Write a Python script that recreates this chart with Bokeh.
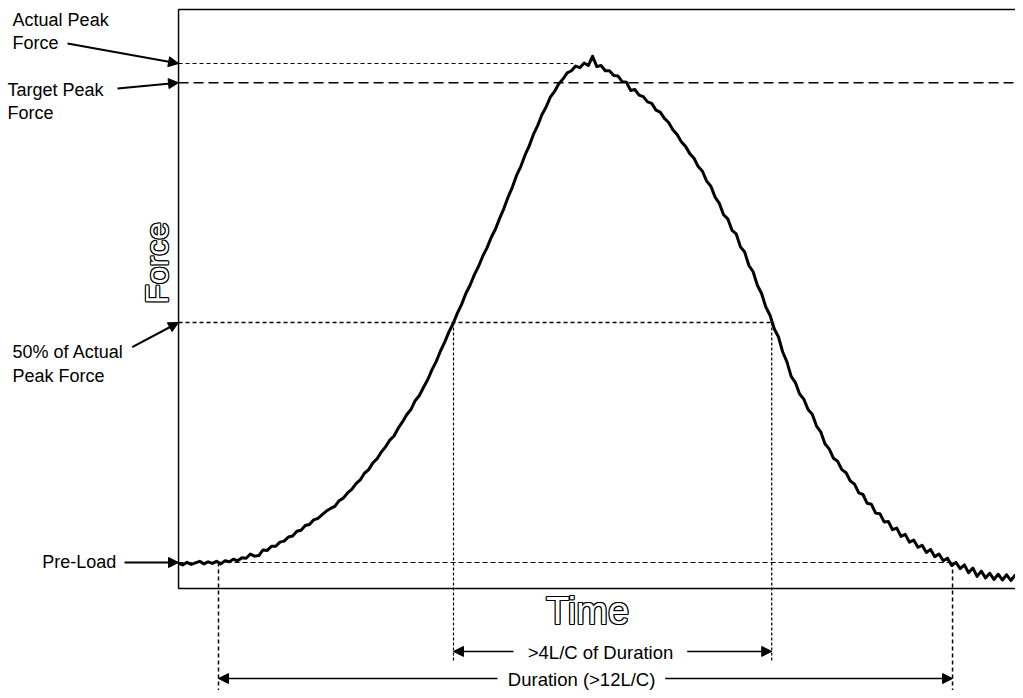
from bokeh.plotting import figure
from bokeh.models import Range1d, Arrow, NormalHead, ColumnDataSource
from bokeh.core.properties import value
from bokeh.embed import file_html
from bokeh.resources import INLINE

# ---- data (time in arbitrary units 0..100, force in % of actual peak) ----
time = [i * 0.5 for i in range(201)]
force = [
    3.5, 3.2, 3.7, 3.3, 3.6, 3.9, 3.4, 3.8, 3.5, 3.9,
    3.4, 4.0, 3.8, 4.3, 4.0, 4.6, 4.5, 5.3, 4.9, 5.0,
    6.1, 6.0, 6.8, 6.8, 7.6, 7.8, 8.6, 8.8, 9.7, 9.9,
    10.8, 11.0, 11.9, 12.2, 12.9, 13.6, 14.1, 14.5, 15.6, 16.1,
    17.1, 17.8, 18.9, 19.6, 20.9, 21.6, 22.9, 23.7, 25.0, 26.0,
    27.3, 28.1, 29.6, 30.8, 32.2, 33.2, 34.9, 35.9, 37.5, 39.0,
    40.9, 42.5, 44.5, 46.2, 48.2, 49.8, 51.8, 53.5, 55.6, 57.2,
    59.2, 60.8, 62.8, 64.4, 66.4, 68.0, 70.1, 72.0, 74.2, 76.1,
    78.4, 80.1, 82.3, 84.1, 86.3, 88.0, 90.1, 91.6, 93.5, 94.6,
    96.1, 97.0, 98.2, 98.6, 99.5, 99.2, 100.1, 99.6, 101.4, 99.4,
    99.6, 98.6, 98.6, 97.7, 97.6, 96.5, 96.4, 94.8, 95.0, 93.9,
    93.6, 92.6, 92.3, 91.0, 90.6, 89.4, 88.6, 87.2, 86.3, 84.9,
    84.0, 82.6, 81.7, 80.1, 79.2, 77.3, 76.3, 74.2, 73.0, 70.8,
    70.0, 67.8, 67.1, 64.6, 63.6, 61.0, 59.8, 57.2, 55.6, 53.0,
    51.4, 48.8, 47.2, 44.3, 42.4, 39.6, 38.4, 36.2, 35.2, 33.2,
    32.3, 30.0, 28.9, 26.6, 25.6, 23.8, 23.2, 21.6, 21.0, 19.4,
    18.8, 17.1, 16.8, 15.1, 14.9, 13.2, 13.1, 11.5, 11.6, 10.0,
    10.3, 8.7, 9.1, 7.6, 8.0, 6.6, 7.0, 5.6, 6.2, 4.8,
    5.3, 4.0, 4.5, 3.1, 3.7, 2.5, 3.2, 1.7, 2.6, 1.0,
    2.0, 0.7, 1.6, 0.4, 1.4, 0.3, 1.3, 0.2, 1.2, 0.3,
    1.0,
]

preload = 3.67
half_peak = 50.0
target_peak = 96.3
actual_peak = 100.0
t_start = 4.73
t_rise50 = 32.54
t_fall50 = 70.2
t_end = 91.6
t_peak_touch = 46.7

# ---- figure: the frame fills the whole canvas ----
T0, T1 = -21.07, 99.05
F0, F1 = -21.04, 112.16
p = figure(width=1015, height=690, x_range=Range1d(T0, T1), y_range=Range1d(F0, F1),
           output_backend="svg", toolbar_location=None, min_border=0)
p.axis.visible = False
p.grid.visible = False
p.outline_line_color = None
p.background_fill_color = "white"
p.border_fill_color = "white"

FONT = value("Liberation Sans")
box_top, box_bottom = 110.42, -1.35

# chart box (right side runs off the page)
p.line([T1, 0, 0, T1], [box_top, box_top, box_bottom, box_bottom], line_color="black", line_width=1.5)

# reference levels
p.line([0, t_peak_touch], [actual_peak, actual_peak], line_color="black", line_width=1, line_dash="4 3")
p.line([0, T1], [target_peak, target_peak], line_color="black", line_width=1.5, line_dash="10 5")
p.line([0, t_fall50], [half_peak, half_peak], line_color="black", line_width=1.5, line_dash="4 3")
p.line([0, t_end], [preload, preload], line_color="black", line_width=1.2, line_dash="5 3")

# vertical markers
p.line([t_start, t_start], [preload, F0], line_color="black", line_width=1.5, line_dash="4 3")
p.line([t_end, t_end], [preload, F0], line_color="black", line_width=1.5, line_dash="4 3")
p.line([t_rise50, t_rise50], [half_peak, -15.3], line_color="black", line_width=1.2, line_dash="3 2")
p.line([t_fall50, t_fall50], [half_peak, -15.3], line_color="black", line_width=1.2, line_dash="3 2")

# force trace
src = ColumnDataSource(dict(t=time, f=force))
p.line("t", "f", source=src, line_color="black", line_width=3, line_join="round")

# ---- left annotations ----
def head():
    return NormalHead(size=10, line_color="black", fill_color="black", line_width=1)

left_text = [
    ("Actual Peak", -19.64, 108.3), ("Force", -19.64, 103.96),
    ("Target Peak", -20.24, 94.79), ("Force", -20.24, 90.35),
    ("50% of Actual", -19.64, 44.3), ("Peak Force", -19.64, 39.67),
    ("Pre-Load", -16.13, 3.67),
]
p.text(x=[a[1] for a in left_text], y=[a[2] for a in left_text], text=[a[0] for a in left_text],
       text_font=FONT, text_font_size="18px", text_align="left", text_baseline="middle",
       text_color="black")

arrows = [
    (-13.14, 103.86, 0, actual_peak),
    (-7.22, 95.17, 0, target_peak),
    (-5.48, 45.23, 0, half_peak),
    (-6.39, preload, 0, preload),
]
for xs, ys, xe, ye in arrows:
    p.add_layout(Arrow(end=head(), x_start=xs, y_start=ys, x_end=xe, y_end=ye,
                       line_color="black", line_width=2))

# ---- axis titles (outlined text) ----
offsets = [(-1, -1), (-1, 0), (-1, 1), (0, -1), (0, 1), (1, -1), (1, 0), (1, 1)]
for dx, dy in offsets:
    p.text(x=[48.4], y=[-5.69], text=["Time"], text_font=FONT, text_font_size="38px",
           text_align="center", text_baseline="middle", text_color="black",
           x_offset=dx, y_offset=dy)
    p.text(x=[-2.49], y=[61.5], text=["Force"], text_font=FONT, text_font_size="32px",
           text_align="center", text_baseline="middle", text_color="black", angle=1.5708,
           x_offset=dx, y_offset=dy)
p.text(x=[48.4], y=[-5.69], text=["Time"], text_font=FONT, text_font_size="38px",
       text_align="center", text_baseline="middle", text_color="white")
p.text(x=[-2.49], y=[61.5], text=["Force"], text_font=FONT, text_font_size="32px",
       text_align="center", text_baseline="middle", text_color="white", angle=1.5708)

# ---- duration arrows ----
p.text(x=[49.94], y=[-13.8], text=[">4L/C of Duration"], text_font=FONT, text_font_size="18.5px",
       text_align="center", text_baseline="middle", text_color="black")
p.text(x=[47.7], y=[-18.92], text=["Duration (>12L/C)"], text_font=FONT, text_font_size="18.5px",
       text_align="center", text_baseline="middle", text_color="black")

dur_arrows = [
    (39.64, -13.5, t_rise50, -13.5),
    (60.2, -13.5, t_fall50, -13.5),
    (37.75, -18.73, t_start, -18.73),
    (57.6, -18.73, t_end, -18.73),
]
for xs, ys, xe, ye in dur_arrows:
    p.add_layout(Arrow(end=head(), x_start=xs, y_start=ys, x_end=xe, y_end=ye,
                       line_color="black", line_width=1.5))

open("out.html", "w").write(file_html(p, INLINE))
